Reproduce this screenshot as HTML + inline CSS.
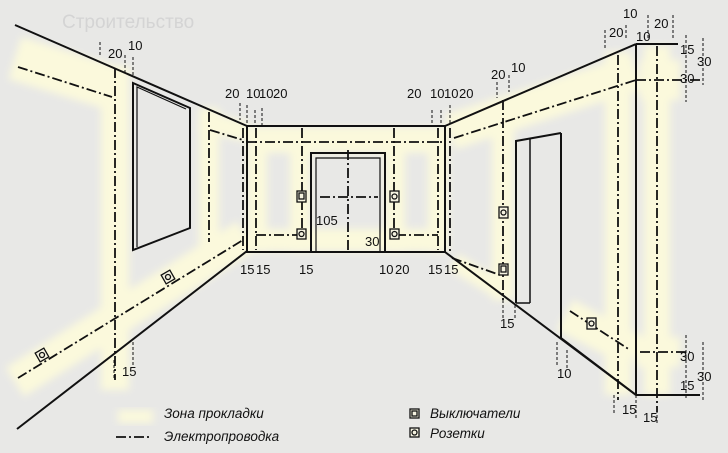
<!DOCTYPE html>
<html><head><meta charset="utf-8"><style>
html,body{margin:0;padding:0;background:#e8e8e6;}
svg{display:block;}
text{font-family:"Liberation Sans",sans-serif;font-size:13px;fill:#111;}
.it{font-style:italic;font-size:13.5px;}
</style></head><body>
<svg width="728" height="453" viewBox="0 0 728 453" xmlns="http://www.w3.org/2000/svg">
<defs><filter id="b" x="-20%" y="-20%" width="140%" height="140%"><feGaussianBlur stdDeviation="4"/></filter></defs>
<rect width="728" height="453" fill="#e8e8e6"/>
<g filter="url(#b)" stroke="#fbf9dc" fill="none" stroke-linecap="butt">
<polyline points="15,58 112,88" stroke-width="44"/>
<line x1="115" y1="66" x2="115" y2="390" stroke-width="28"/>
<polyline points="15,382 246,236" stroke-width="34"/>
<line x1="209" y1="108" x2="209" y2="245" stroke-width="20"/>
<polyline points="200,120 246,132" stroke-width="20"/>
<line x1="247" y1="140" x2="445" y2="140" stroke-width="26"/>
<line x1="247" y1="240" x2="445" y2="240" stroke-width="22"/>
<line x1="257" y1="128" x2="257" y2="252" stroke-width="20"/>
<line x1="300" y1="128" x2="300" y2="252" stroke-width="20"/>
<line x1="395" y1="128" x2="395" y2="252" stroke-width="20"/>
<line x1="438" y1="128" x2="438" y2="252" stroke-width="20"/>
<polyline points="450,132 636,72" stroke-width="36"/>
<line x1="503" y1="98" x2="503" y2="300" stroke-width="22"/>
<line x1="618" y1="52" x2="618" y2="395" stroke-width="26"/>
<line x1="657" y1="46" x2="657" y2="395" stroke-width="26"/>
<line x1="640" y1="80" x2="680" y2="80" stroke-width="40"/>
<polyline points="565,315 636,352" stroke-width="34"/>
<line x1="636" y1="352" x2="680" y2="352" stroke-width="30"/>
<polyline points="454,262 500,290" stroke-width="18"/>
</g>
<g stroke="#111" stroke-width="2" fill="none">
<line x1="15" y1="25" x2="247" y2="126"/>
<line x1="17" y1="429" x2="247" y2="251"/>
<rect x="247" y="126" width="198" height="126"/>
<line x1="445" y1="126" x2="636" y2="44"/>
<line x1="445" y1="252" x2="636" y2="395"/>
<line x1="636" y1="44" x2="636" y2="395"/>
<line x1="636" y1="44" x2="678" y2="44"/>
<line x1="636" y1="395" x2="700" y2="395"/>
<polyline points="311,252 311,153 385,153 385,252"/>
<polyline points="316,252 316,158 380,158 380,252" stroke-width="1.2"/>
<polygon points="133,83 190,108 190,228 133,250"/>
<polyline points="137,247 137,87 186,109" stroke-width="1.2"/>
<polyline points="516,303 516,141 561,133"/>
<polyline points="530,303 530,138" stroke-width="1.5"/>
<line x1="516" y1="303" x2="530" y2="303" stroke-width="1.5"/>
<polyline points="561,133 561,338 636,395"/>
</g>
<g stroke="#111" stroke-width="1.8" fill="none" stroke-dasharray="10 3 2 3">
<line x1="18" y1="67" x2="112" y2="97"/>
<line x1="115" y1="68" x2="115" y2="380"/>
<line x1="18" y1="378" x2="243" y2="240"/>
<line x1="209" y1="112" x2="209" y2="242"/>
<line x1="210" y1="130" x2="243" y2="140"/>
<line x1="243" y1="128" x2="243" y2="250"/>
<line x1="247" y1="142" x2="445" y2="142"/>
<line x1="256" y1="128" x2="256" y2="250"/>
<line x1="302" y1="128" x2="302" y2="236"/>
<line x1="394" y1="128" x2="394" y2="236"/>
<line x1="438" y1="128" x2="438" y2="250"/>
<line x1="450" y1="128" x2="450" y2="252"/>
<line x1="256" y1="235" x2="300" y2="235"/>
<line x1="396" y1="235" x2="438" y2="235"/>
<line x1="454" y1="138" x2="636" y2="80"/>
<line x1="636" y1="80" x2="700" y2="80"/>
<line x1="503" y1="100" x2="503" y2="300"/>
<line x1="618" y1="55" x2="618" y2="400"/>
<line x1="657" y1="46" x2="657" y2="412"/>
<line x1="452" y1="258" x2="500" y2="275"/>
<line x1="570" y1="311" x2="630" y2="350"/>
<line x1="640" y1="352" x2="690" y2="352"/>
<line x1="348" y1="150" x2="348" y2="250"/>
<line x1="320" y1="197" x2="378" y2="197"/>
</g>
<g stroke="#111" stroke-width="1.3" fill="#f4f2e0">
<rect x="297" y="191" width="9" height="11"/><rect x="299" y="193" width="5" height="6" fill="none"/>
<rect x="297" y="229" width="9" height="10"/><circle cx="301.5" cy="234" r="2.5" fill="none"/>
<rect x="390" y="191" width="9" height="11"/><circle cx="394.5" cy="196.5" r="2.5" fill="none"/>
<rect x="390" y="229" width="9" height="10"/><circle cx="394.5" cy="234" r="2.5" fill="none"/>
<rect x="499" y="207" width="9" height="11"/><circle cx="503.5" cy="212.5" r="2.5" fill="none"/>
<rect x="499" y="264" width="9" height="11"/><rect x="501" y="266" width="5" height="6" fill="none"/>
<rect x="163" y="272" width="10" height="10" transform="rotate(-30 168 277)"/><circle cx="168" cy="277" r="2.5" fill="none"/>
<rect x="37" y="350" width="10" height="10" transform="rotate(-30 42 355)"/><circle cx="42" cy="355" r="2.5" fill="none"/>
<rect x="587" y="318" width="9" height="11"/><circle cx="591.5" cy="323.5" r="2.5" fill="none"/>
<rect x="410" y="409" width="9" height="9"/><rect x="412" y="411" width="5" height="5" fill="none"/>
<rect x="410" y="428" width="9" height="9"/><circle cx="414.5" cy="432.5" r="2.5" fill="none"/>
</g>
<g stroke="#111" stroke-width="1" fill="none" stroke-dasharray="3 2">
<line x1="100" y1="42" x2="100" y2="55"/><line x1="125" y1="55" x2="125" y2="72"/><line x1="133" y1="57" x2="133" y2="75"/>
<line x1="240" y1="103" x2="240" y2="120"/><line x1="247" y1="105" x2="247" y2="125"/><line x1="255" y1="110" x2="255" y2="125"/><line x1="262" y1="108" x2="262" y2="125"/>
<line x1="432" y1="110" x2="432" y2="125"/><line x1="441" y1="110" x2="441" y2="125"/><line x1="450" y1="105" x2="450" y2="125"/>
<line x1="497" y1="82" x2="497" y2="98"/><line x1="509" y1="75" x2="509" y2="92"/>
<line x1="605" y1="30" x2="605" y2="48"/><line x1="626" y1="25" x2="626" y2="40"/><line x1="648" y1="15" x2="648" y2="40"/><line x1="673" y1="15" x2="673" y2="40"/>
<line x1="686" y1="35" x2="686" y2="102"/><line x1="703" y1="38" x2="703" y2="85"/>
<line x1="686" y1="335" x2="686" y2="400"/><line x1="703" y1="342" x2="703" y2="400"/>
<line x1="614" y1="395" x2="614" y2="415"/><line x1="636" y1="395" x2="636" y2="420"/><line x1="657" y1="410" x2="657" y2="425"/>
<line x1="114" y1="360" x2="114" y2="380"/><line x1="133" y1="342" x2="133" y2="365"/>
<line x1="503" y1="300" x2="503" y2="320"/><line x1="515" y1="305" x2="515" y2="320"/>
<line x1="557" y1="342" x2="557" y2="365"/><line x1="567" y1="350" x2="567" y2="368"/>
</g>
<g>
<text x="225" y="98">20</text><text x="246" y="98">10</text><text x="259" y="98">10</text><text x="273" y="98">20</text>
<text x="407" y="98">20</text><text x="430" y="98">10</text><text x="444" y="98">10</text><text x="459" y="98">20</text>
<text x="108" y="58">20</text><text x="128" y="50">10</text>
<text x="491" y="79">20</text><text x="511" y="72">10</text>
<text x="609" y="37">20</text><text x="623" y="18">10</text><text x="654" y="28">20</text><text x="636" y="41">10</text>
<text x="680" y="54">15</text><text x="697" y="66">30</text><text x="680" y="83">30</text>
<text x="680" y="361">30</text><text x="697" y="381">30</text><text x="680" y="390">15</text>
<text x="316" y="225">105</text><text x="365" y="246">30</text>
<text x="240" y="274">15</text><text x="256" y="274">15</text><text x="299" y="274">15</text>
<text x="379" y="274">10</text><text x="395" y="274">20</text><text x="428" y="274">15</text><text x="444" y="274">15</text>
<text x="500" y="328">15</text><text x="122" y="376">15</text><text x="557" y="378">10</text>
<text x="622" y="414">15</text><text x="643" y="422">15</text>
<text x="164" y="418" class="it">Зона прокладки</text>
<text x="164" y="441" class="it">Электропроводка</text>
<text x="430" y="418" class="it">Выключатели</text>
<text x="430" y="438" class="it">Розетки</text>
</g>
<rect x="118" y="410" width="35" height="13" fill="#fbf9dc" filter="url(#b)"/>
<line x1="116" y1="437" x2="152" y2="437" stroke="#111" stroke-width="1.8" stroke-dasharray="10 3 2 3"/>
<text x="62" y="28" style="font-size:19px;fill:#d4d4d4">Строительство</text>
</svg>
</body></html>
